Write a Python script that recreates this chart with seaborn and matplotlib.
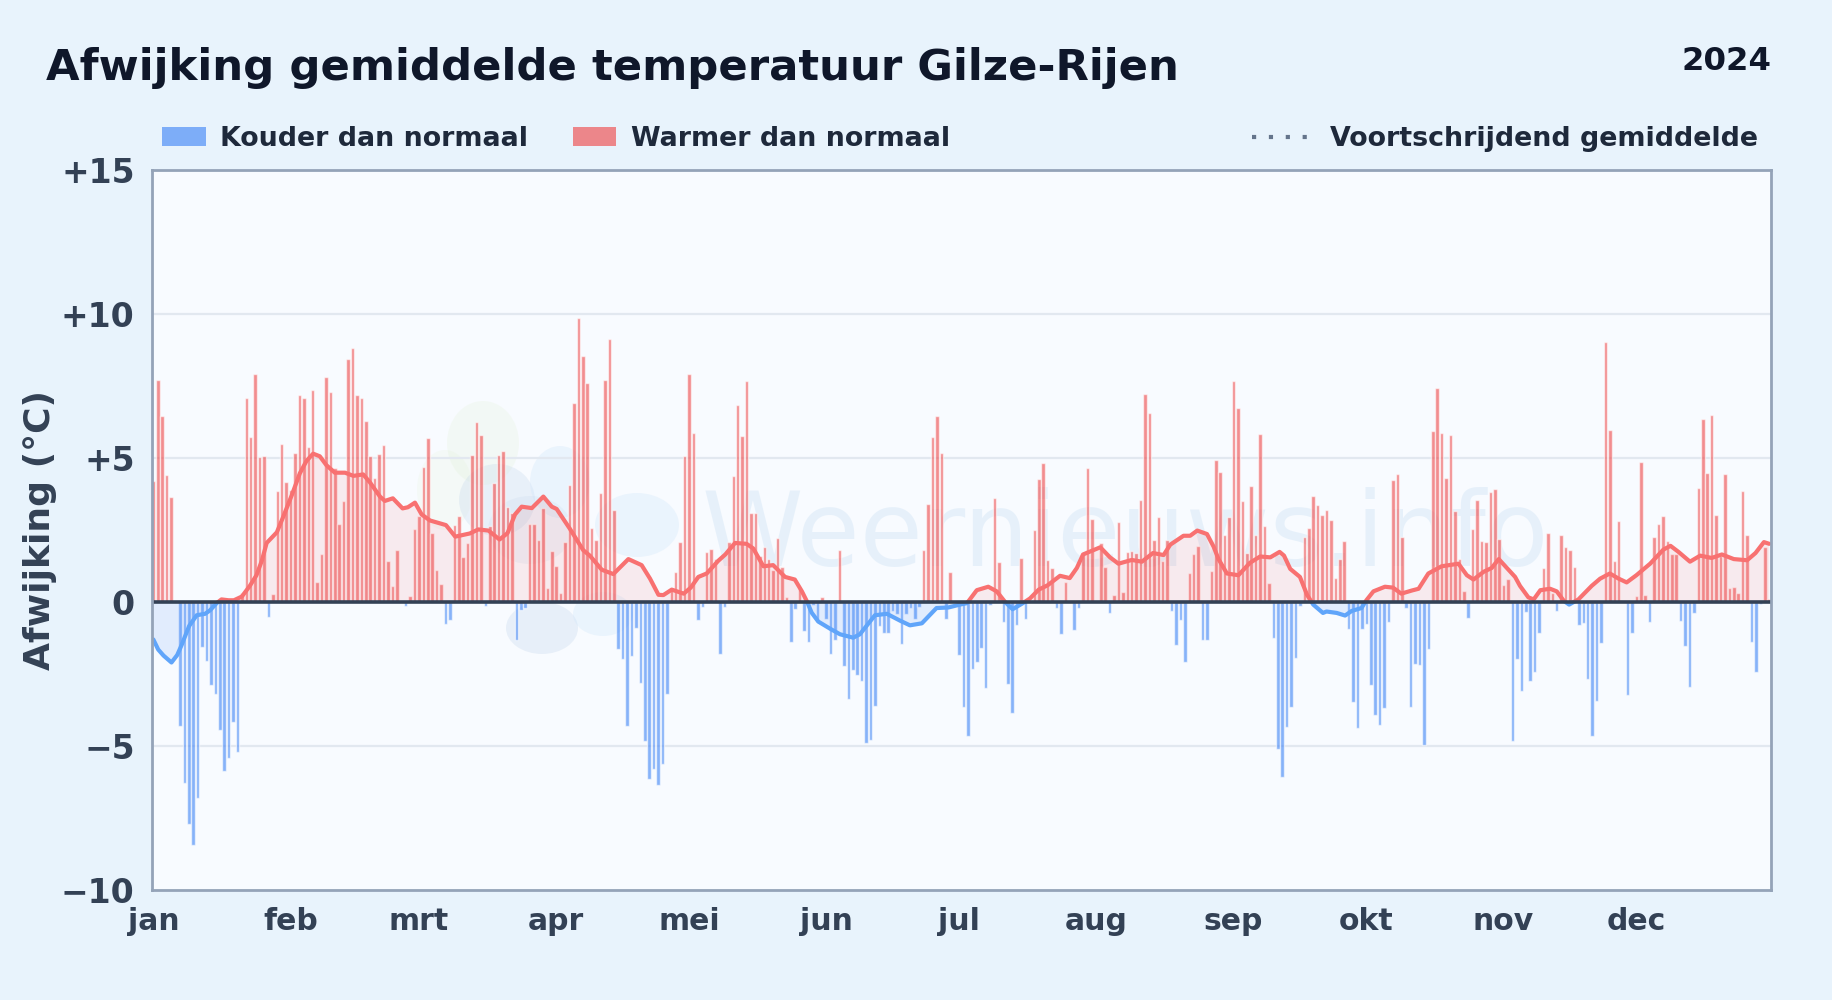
import numpy as np
import pandas as pd
import matplotlib
matplotlib.use("Agg")
import matplotlib.pyplot as plt
import seaborn as sns
from matplotlib.patches import Rectangle, Ellipse
from matplotlib.lines import Line2D

daily_anomaly = [
 4.2,7.7,6.45,4.4,3.63,0,-4.3,-6.3,-7.7,-8.44,
 -6.8,-1.56,-2.05,-2.88,-3.2,-4.44,-5.87,-5.4,-4.17,-5.2,
 .3,7.08,5.72,7.9,5.02,5.06,-.52,.27,3.85,5.48,
 4.16,3.9,5.17,7.18,7.1,5.37,7.35,.68,1.66,7.8,
 7.28,4.65,2.7,3.5,8.44,8.82,7.18,7.08,6.3,5.06,
 4.3,5.14,5.45,1.41,.56,1.8,0,-.14,.2,2.53,
 2.98,4.7,5.7,2.4,1.1,.62,-.78,-.62,2.67,3.0,
 1.55,2.05,5.09,6.24,5.79,-.14,2.63,4.13,5.1,5.24,
 3.29,3.09,-1.32,-.27,-.2,2.7,2.7,2.15,3.26,.48,
 1.76,1.24,.31,2.1,4.06,6.9,9.86,8.54,7.6,2.57,
 2.15,3.8,7.7,9.13,3.2,-1.63,-1.97,-4.3,-1.87,-.9,
 -2.8,-4.83,-6.14,-5.8,-6.35,-5.62,-3.19,.5,1.03,2.1,
 5.06,7.9,5.87,-.62,-.18,1.72,1.84,1.49,-1.8,-.18,
 2.1,4.37,6.84,5.76,7.67,3.09,3.09,1.6,1.9,1.49,
 1.1,2.22,1.2,.16,-1.4,-.24,.5,-1.0,-1.4,-.1,
 -.7,.16,-.58,-1.8,-1.32,1.8,-2.22,-3.36,-2.36,-2.53,
 -2.74,-4.88,-4.79,-3.61,-.83,-1.07,-1.07,-.3,-.41,-1.45,
 -.41,-.2,-.58,-.19,1.8,3.4,5.72,6.45,5.17,-.58,
 1.03,0,-1.84,-3.66,-4.65,-2.32,-2.1,-1.6,-2.98,-.1,
 3.6,1.38,-.7,-2.84,-3.85,-.79,1.53,-.58,0,2.5,
 4.27,4.83,1.45,1.18,-.2,-1.1,.68,0,-.97,-.2,
 1.67,4.65,2.88,0,2.05,1.2,-.37,.24,2.77,.33,
 1.72,1.76,1.7,3.54,7.22,6.56,2.15,2.94,1.41,2.15,
 -.31,-1.49,-.62,-2.1,1.0,1.66,1.94,-1.32,-1.32,1.07,
 4.93,4.5,2.32,2.94,7.67,6.74,3.5,1.7,4.02,2.32,
 5.83,2.63,.66,-1.24,-5.1,-6.08,-4.34,-3.66,-1.94,-.14,
 2.25,2.57,3.67,3.36,3.01,3.19,2.84,.83,1.49,2.11,
 -.93,-3.47,-4.37,-.93,-.76,-2.88,-3.92,-4.27,-3.67,-.69,
 4.23,4.44,2.25,-.2,-3.65,-2.15,-2.18,-4.96,-1.63,5.93,
 7.43,5.87,4.3,5.79,3.15,1.49,.37,-.55,2.53,3.54,
 2.11,2.07,3.81,3.92,2.18,.58,.79,-4.83,-1.97,-3.09,
 -.35,-2.74,-2.43,-1.07,1.18,2.39,.31,-.31,2.32,1.9,
 1.8,1.2,-.79,-.72,-2.67,-4.65,-3.44,-1.41,9.02,5.97,
 1.41,2.8,0,-3.23,-1.07,.2,4.85,.24,-.69,2.25,
 2.7,2.98,2.11,1.66,1.66,-.66,-1.53,-2.95,-.37,3.96,
 6.35,4.48,6.49,3.01,1.6,4.44,.48,.51,.31,3.85,
 2.32,-1.39,-2.43,-.08,1.9,.12,
]

avg_days = [0,1.1,2.3,4.1,5.4,6.4,8.1,9.8,11.7,12.8,14.3,15.4,17,18.2,20,21.8,23.3,24.5,25.6,27.9,
 29.4,31.3,33.1,34.6,36.1,37.6,39.1,41,43.3,45.2,47.4,48.9,51.2,52.3,54.1,56.3,57.5,59.1,60.6,62.5,
 66.1,68.2,71.5,73.4,75.7,78.2,80,81.7,83.2,85.5,88.1,90,91.1,94.1,97.1,98.6,101.3,103.9,107.3,110.3,
 112.2,114.1,115.2,117.1,119.8,121.4,123.1,125,127.6,129.2,131.4,134,135.5,137.8,140,142.7,144.9,146.5,147.7,148.7,
 150.2,152.9,155.1,158.1,159.6,163,165.7,168.7,170.9,173.6,176.9,179.6,182.2,183.8,
 186,188.6,190.5,192.4,194.1,196.2,198,200,202,204.8,207,208.6,210,213.9,216.1,218,221,223.3,225.8,228.2,
 229.7,232.7,234.2,235.8,238,239.5,240.6,242.5,245.1,247.7,250,252.3,254.4,255.4,256.8,259,260.6,262,264.2,265,
 267.3,269.2,270.7,272.9,274,275.6,278.2,280,281.9,284.3,285.8,288,291,294.8,296.7,298.2,300.5,302.3,303.9,
 307.6,308.7,310.6,311.8,313.3,315.5,317,318.6,319.8,321.9,324.9,326.8,329,331,332.8,335,338.1,341.1,342.7,344.5,
 347.1,349.4,352,354.3,357,360,361.9,363.8,365]
avg_values = [-1.3,-1.65,-1.86,-2.1,-1.84,-1.49,-.83,-.46,-.41,-.29,-.04,.09,.06,.06,.19,.56,.93,1.43,2.05,2.42,
 2.98,3.72,4.47,4.9,5.15,5.06,4.75,4.49,4.49,4.38,4.43,4.16,3.66,3.51,3.6,3.25,3.29,3.45,3.04,2.83,
 2.67,2.27,2.38,2.52,2.48,2.17,2.39,3.04,3.31,3.26,3.66,3.31,3.23,2.54,1.8,1.61,1.12,.97,1.49,1.28,
 .81,.25,.24,.43,.29,.5,.87,.99,1.43,1.65,2.05,2.02,1.86,1.24,1.28,.87,.78,.37,0,-.37,
 -.68,-.93,-1.12,-1.24,-1.12,-.46,-.41,-.65,-.81,-.74,-.21,-.19,-.09,-.04,
 .41,.53,.37,0,-.25,-.06,.12,.43,.58,.91,.83,1.18,1.65,1.9,1.55,1.33,1.46,1.4,1.7,1.63,
 1.99,2.3,2.3,2.48,2.36,1.92,1.49,.99,.93,1.36,1.58,1.55,1.74,1.61,1.15,.87,.25,-.09,-.38,-.33,
 -.38,-.47,-.31,-.21,.06,.37,.53,.5,.29,.4,.46,.99,1.24,1.33,.93,.78,1.05,1.18,1.49,
 .87,.56,.16,.09,.41,.46,.37,.04,-.09,.09,.56,.81,.99,.81,.68,.93,1.33,1.82,1.95,1.74,
 1.4,1.61,1.53,1.65,1.49,1.45,1.7,2.08,2.02]

month_starts = [0,31,60,91,121,152,182,213,244,274,305,335]
month_labels = ["jan","feb","mrt","apr","mei","jun","jul","aug","sep","okt","nov","dec"]
y_ticks = [-10,-5,0,5,10,15]
y_labels = ["\u221210","\u22125","0","+5","+10","+15"]

W, H = 1832, 1000
BG, PANEL = "#e8f3fc", "#f8fbff"
RED, BLUE = "#ef4444", "#3b82f6"
LINE_RED, LINE_BLUE = "#f87171", "#60a5fa"
DARK, TEXT = "#0f172a", "#1e293b"
SLATE = "#334155"

sns.set_theme(style="white")
plt.rcParams["font.family"] = ["DejaVu Sans"]

fig = plt.figure(figsize=(W/100, H/100), dpi=100, facecolor=BG)
ax = fig.add_axes([152/W, 1-890/H, 1619/W, 720/H], facecolor=PANEL)

def fx(p): return p/W
def fy(p): return 1-p/H
def axx(p): return (p-152)/1619
def axy(p): return 1-(p-170)/720

# watermark
for cx, cy, rx, ry, col, al in [
    (483,443,36,42,"#dcefc8",.18),(445,490,28,40,"#dcefc8",.14),
    (497,500,38,36,"#b9cfe8",.24),(560,482,30,36,"#cfe6fb",.32),
    (637,525,42,32,"#cfe6fb",.32),(542,628,36,26,"#b9cfe8",.26),
    (603,614,30,22,"#cfe6fb",.32),(530,530,42,34,"#b9cfe8",.16)]:
    ax.add_patch(Ellipse((axx(cx),axy(cy)),2*rx/1619,2*ry/720,transform=ax.transAxes,
                         facecolor=col,alpha=al,edgecolor="none",zorder=0.5))
ax.text(axx(702),axy(566),"Weernieuws.info",transform=ax.transAxes,fontsize=74,
        color="#cfe3f5",alpha=.42,ha="left",va="baseline",zorder=0.6)

ax.set_axisbelow(True)
for v in [-5,5,10]:
    ax.axhline(v,color="#e2e8f0",lw=1.6,zorder=1)

df = pd.DataFrame({"day":np.arange(len(daily_anomaly)),"value":daily_anomaly})
df["kind"] = np.where(df["value"]<0,"Kouder dan normaal","Warmer dan normaal")
sns.barplot(data=df,x="day",y="value",hue="kind",native_scale=True,dodge=False,width=.8,
            palette={"Kouder dan normaal":BLUE,"Warmer dan normaal":RED},alpha=.6,saturation=1,
            errorbar=None,legend=False,ax=ax,zorder=2)

xlim = (-0.3,365.4)
d = np.array(avg_days); v = np.array(avg_values)
ax.fill_between(d,v,0,where=v>=0,interpolate=True,color=RED,alpha=.09,lw=0,zorder=2.2)
ax.fill_between(d,v,0,where=v<=0,interpolate=True,color=BLUE,alpha=.12,lw=0,zorder=2.2)

for color, y0, h in [(LINE_RED,0,15),(LINE_BLUE,-10,10)]:
    before = len(ax.lines)
    sns.lineplot(x=d,y=v,color=color,lw=3.0,errorbar=None,sort=False,ax=ax,zorder=3,legend=False)
    ln = ax.lines[before]
    ln.set_solid_joinstyle("round")
    ln.set_clip_path(Rectangle((xlim[0],y0),xlim[1]-xlim[0],h,transform=ax.transData))

ax.axhline(0,color=SLATE,lw=2.6,zorder=4)

ax.set_xlim(*xlim); ax.set_ylim(-10,15)
ax.set_xticks(month_starts); ax.set_xticklabels(month_labels)
ax.set_yticks(y_ticks); ax.set_yticklabels(y_labels)
ax.tick_params(axis="x",length=0,labelsize=21.5,labelcolor=SLATE,pad=12.5)
ax.tick_params(axis="y",length=0,labelsize=23.8,labelcolor=SLATE,pad=12.5)
for lab in ax.get_xticklabels()+ax.get_yticklabels():
    lab.set_fontweight("bold")
ax.set_xlabel(""); ax.set_ylabel("")
for s in ax.spines.values():
    s.set_visible(True); s.set_color("#94a3b8"); s.set_linewidth(2)
    s.set_zorder(5)

fig.text(fx(40),fy(530),"Afwijking (\u00b0C)",rotation=90,ha="center",va="center",
         fontsize=26,fontweight="bold",color=SLATE)
fig.text(fx(46),fy(80),"Afwijking gemiddelde temperatuur Gilze-Rijen",ha="left",va="baseline",
         fontsize=31.2,fontweight="bold",color=DARK)
fig.text(fx(1771),fy(70),"2024",ha="right",va="baseline",fontsize=23.3,fontweight="bold",color=DARK)

for x0, x1, col, label, tx in [(162,206,BLUE,"Kouder dan normaal",220),(573,616,RED,"Warmer dan normaal",631)]:
    fig.add_artist(Rectangle((fx(x0),fy(146)),(x1-x0)/W,19/H,transform=fig.transFigure,
                             facecolor=col,alpha=.62,edgecolor="none"))
    fig.text(fx(tx),fy(136),label,ha="left",va="center_baseline",fontsize=19.4,fontweight="bold",color=TEXT)
fig.add_artist(Line2D([fx(1252),fx(1307)],[fy(137),fy(137)],transform=fig.transFigure,color="#64748b",
                      lw=3,dashes=(1,3.05),dash_capstyle="butt"))
fig.text(fx(1330),fy(136),"Voortschrijdend gemiddelde",ha="left",va="center_baseline",fontsize=19.4,
         fontweight="bold",color=TEXT)

fig.savefig("out.png",dpi=100,facecolor=BG)
